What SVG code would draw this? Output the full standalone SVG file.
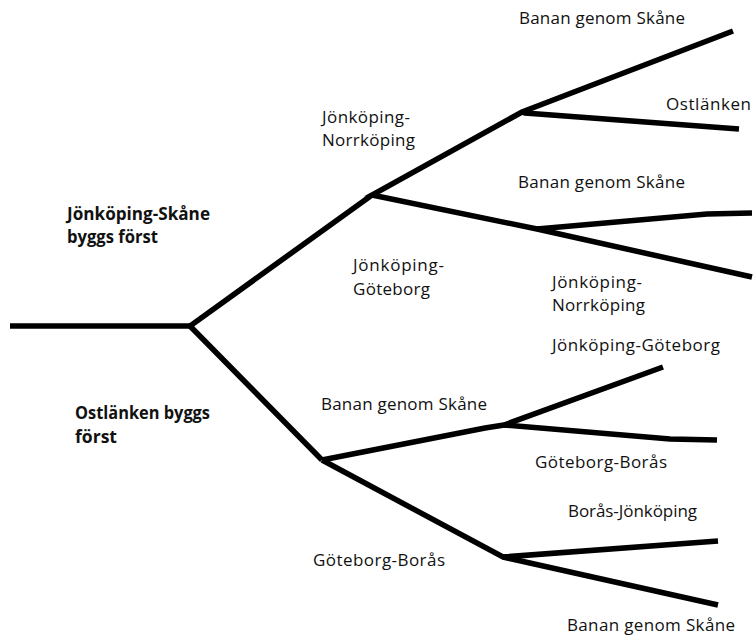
<svg xmlns="http://www.w3.org/2000/svg" width="754" height="637" viewBox="0 0 754 637">
<style>
.lbl{font-family:"Open Sans","Noto Sans","Liberation Sans",sans-serif;font-size:17px;fill:#111}
.b{font-weight:bold}
.br{fill:none;stroke:#000;stroke-width:5.5;stroke-linejoin:miter;stroke-linecap:butt}
</style>
<rect width="754" height="637" fill="#fff"/>
<g id="connectors">
<path class="br" d="M10,326 L190,326"/>
<path class="br" d="M372,195 L190,326 L322,460"/>
<path class="br" d="M733,31 L522,112 L372,195 L537,229 L752,277"/>
<path class="br" d="M522,112 L525,113 L739,129"/>
<path class="br" d="M537,229 L707,214 L752,213"/>
<path class="br" d="M322,460 L485,428 L504,425 L663,367"/>
<path class="br" d="M504,425 L670,439 L717,440"/>
<path class="br" d="M718,541 L503,557 L322,460"/>
<path class="br" d="M503,557 L718,605"/>
</g>
<g id="root-labels">
<g id="n-jsk">
<text class="lbl b" x="67" y="220" textLength="143" lengthAdjust="spacingAndGlyphs">Jönköping-Skåne</text>
<text class="lbl b" x="67" y="243" textLength="91" lengthAdjust="spacingAndGlyphs">byggs först</text>
</g>
<g id="n-ost">
<text class="lbl b" x="75" y="419" textLength="135" lengthAdjust="spacingAndGlyphs">Ostlänken byggs</text>
<text class="lbl b" x="75" y="443" textLength="42" lengthAdjust="spacingAndGlyphs">först</text>
</g>
</g>
<g id="n-jn1">
<text class="lbl" x="322" y="123" textLength="88" lengthAdjust="spacing">Jönköping-</text>
<text class="lbl" x="322" y="146" textLength="93" lengthAdjust="spacing">Norrköping</text>
</g>
<g id="n-jg1">
<text class="lbl" x="353" y="271" textLength="91" lengthAdjust="spacing">Jönköping-</text>
<text class="lbl" x="353" y="295" textLength="77" lengthAdjust="spacing">Göteborg</text>
</g>
<g id="n-bs1">
<text class="lbl" x="519" y="24" textLength="166" lengthAdjust="spacing">Banan genom Skåne</text>
</g>
<g id="n-ost2">
<text class="lbl" x="666" y="110" textLength="85" lengthAdjust="spacing">Ostlänken</text>
</g>
<g id="n-bs2">
<text class="lbl" x="518" y="188" textLength="167" lengthAdjust="spacing">Banan genom Skåne</text>
</g>
<g id="n-jn2">
<text class="lbl" x="552" y="288" textLength="90" lengthAdjust="spacing">Jönköping-</text>
<text class="lbl" x="552" y="311" textLength="93" lengthAdjust="spacing">Norrköping</text>
</g>
<g id="n-jg2">
<text class="lbl" x="552" y="351" textLength="168" lengthAdjust="spacing">Jönköping-Göteborg</text>
</g>
<g id="n-bs3">
<text class="lbl" x="321" y="410" textLength="166" lengthAdjust="spacing">Banan genom Skåne</text>
</g>
<g id="n-gb1">
<text class="lbl" x="535" y="468" textLength="132" lengthAdjust="spacing">Göteborg-Borås</text>
</g>
<g id="n-bj">
<text class="lbl" x="568" y="517" textLength="129" lengthAdjust="spacing">Borås-Jönköping</text>
</g>
<g id="n-gb2">
<text class="lbl" x="313" y="566" textLength="132" lengthAdjust="spacing">Göteborg-Borås</text>
</g>
<g id="n-bs4">
<text class="lbl" x="567" y="631" textLength="168" lengthAdjust="spacing">Banan genom Skåne</text>
</g>
</svg>
